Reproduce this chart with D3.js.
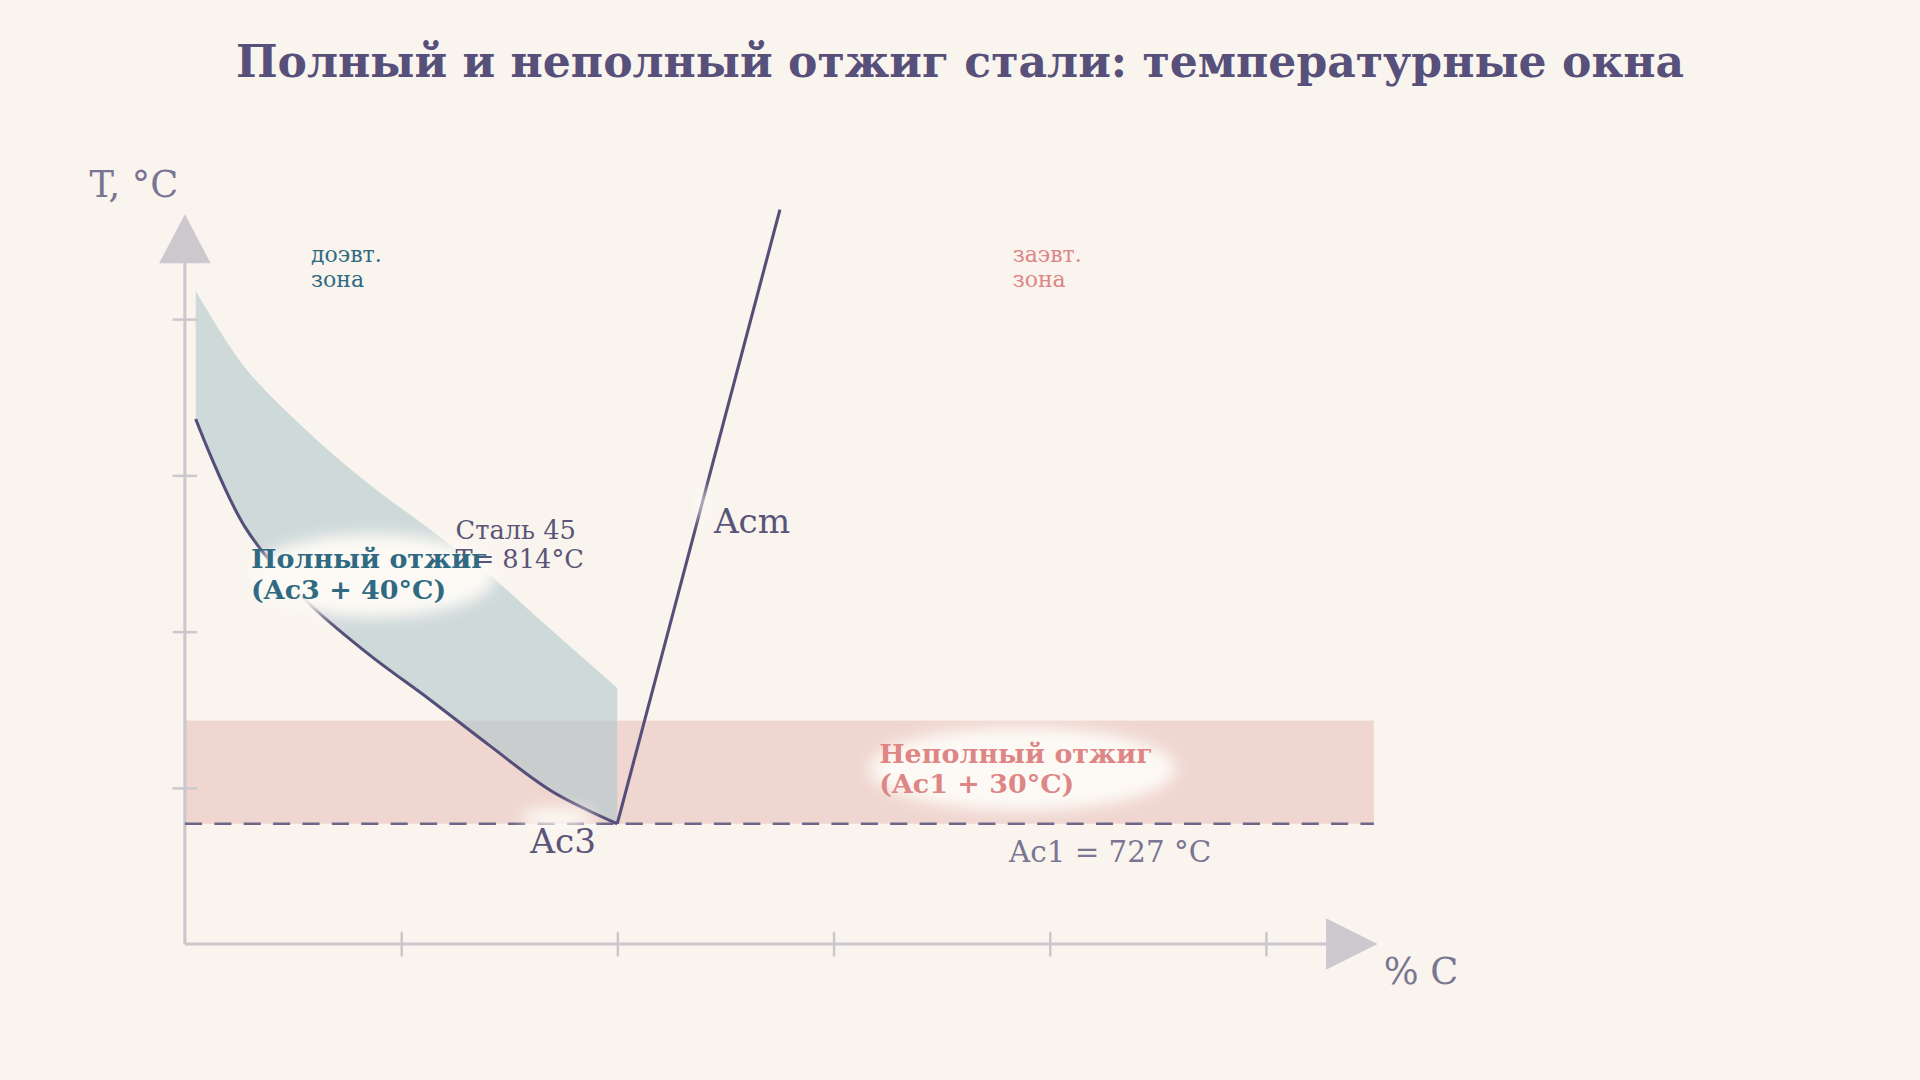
<!DOCTYPE html>
<html><head><meta charset="utf-8">
<script src="https://cdn.jsdelivr.net/npm/d3@7"></script>
<style>html,body{margin:0;background:#f9f4ee;}svg{display:block;font-family:"DejaVu Serif",serif;}</style>
</head><body><div id="chart"></div>
<script>
// carbon %, temperature °C
const ac3Curve = [[0.02,986],[0.111,917],[0.224,870],[0.338,836],[0.451,807],[0.564,777],[0.678,748],[0.8,727]];
const fullUpper = [[0.02,1068],[0.111,1019],[0.224,979],[0.338,945],[0.451,916],[0.564,886],[0.678,851],[0.8,814]];
const acmLine = [[0.8,727],[1.101,1120]];
const ac1 = 727, partialTop = 793;
const xTicks = [0, 0.4, 0.8, 1.2, 1.6, 2.0];
const yTicks = [750, 850, 950, 1050];

const W = 1568, H = 882;
const svg = d3.select('#chart').append('svg')
  .attr('width', 1920).attr('height', 1080)
  .attr('viewBox', `0 0 ${W} ${H}`);
svg.append('rect').attr('width', W).attr('height', H).attr('fill', '#f9f4ee');

const defs = svg.append('defs');
defs.append('filter').attr('id', 'blur').attr('x', '-30%').attr('y', '-60%').attr('width', '160%').attr('height', '220%')
  .append('feGaussianBlur').attr('stdDeviation', 6);

const x = d3.scaleLinear().domain([0, 2.2]).range([151, 1122]);
const y = d3.scaleLinear().domain([650, 1117]).range([771, 175]);

svg.append('text').attr('x', 784).attr('y', 63).attr('text-anchor', 'middle')
  .attr('font-size', 36).attr('font-weight', 'bold').attr('fill', '#56507a')
  .text('Полный и неполный отжиг стали: температурные окна');

// partial anneal band
svg.append('rect').attr('x', x(0)).attr('width', x(2.2) - x(0))
  .attr('y', y(partialTop)).attr('height', y(ac1) - y(partialTop))
  .attr('fill', '#f0d6d0');

// full anneal band
const bandData = ac3Curve.map((p, i) => ({c: p[0], lo: p[1], hi: fullUpper[i][1]}));
const area = d3.area().x(d => x(d.c)).y0(d => y(d.lo)).y1(d => y(d.hi)).curve(d3.curveCatmullRom);
svg.append('path').datum(bandData).attr('d', area).attr('fill', '#b3c8cd').attr('opacity', 0.62);

// axes
const axisCol = '#cbc7ca';
const xAxis = d3.axisBottom(x).tickValues(xTicks.slice(1)).tickSize(20).tickFormat('');
const xg = svg.append('g').attr('transform', `translate(0,${y(650) - 10})`).call(xAxis);
xg.select('.domain').remove();
xg.selectAll('line').attr('stroke', axisCol).attr('stroke-width', 2);
const yAxis = d3.axisLeft(y).tickValues(yTicks).tickSize(20).tickFormat('');
const yg = svg.append('g').attr('transform', `translate(${x(0) + 10},0)`).call(yAxis);
yg.select('.domain').remove();
yg.selectAll('line').attr('stroke', axisCol).attr('stroke-width', 2);
svg.append('line').attr('x1', x(0)).attr('x2', 1090).attr('y1', y(650)).attr('y2', y(650)).attr('stroke', axisCol).attr('stroke-width', 2.5);
svg.append('line').attr('x1', x(0)).attr('x2', x(0)).attr('y1', y(650)).attr('y2', 210).attr('stroke', axisCol).attr('stroke-width', 2.5);
svg.append('path').attr('d', `M1083,750 L1125,771 L1083,792 Z`).attr('fill', '#cdc8cd');
svg.append('path').attr('d', `M130,215 L151,175 L172,215 Z`).attr('fill', '#cdc8cd');

// Ac1 dashed
svg.append('line').attr('x1', x(0)).attr('x2', x(2.2)).attr('y1', y(ac1)).attr('y2', y(ac1))
  .attr('stroke', '#6d6787').attr('stroke-width', 2).attr('stroke-dasharray', '14,10');

svg.append('path').datum(ac3Curve)
  .attr('d', d3.line().x(d => x(d[0])).y(d => y(d[1])).curve(d3.curveCatmullRom))
  .attr('fill', 'none').attr('stroke', '#554e78').attr('stroke-width', 2.5);
svg.append('path').datum(acmLine)
  .attr('d', d3.line().x(d => x(d[0])).y(d => y(d[1])))
  .attr('fill', 'none').attr('stroke', '#554e78').attr('stroke-width', 2.5);

// halos
function halo(cx, cy, rx, ry) {
  svg.append('ellipse').attr('cx', cx).attr('cy', cy).attr('rx', rx).attr('ry', ry)
    .attr('fill', '#fdfaf5').attr('filter', 'url(#blur)');
}
halo(305, 470, 100, 34);
halo(835, 628, 125, 34);
halo(455, 668, 30, 8);
halo(574, 412, 5, 14);

function label(tx, ty, lines, opts) {
  const t = svg.append('text').attr('x', tx).attr('y', ty).attr('font-size', opts.size)
    .attr('fill', opts.color).attr('font-weight', opts.bold ? 'bold' : 'normal');
  lines.forEach((s, i) => t.append('tspan').attr('x', tx).attr('dy', i ? opts.lh : 0).text(s));
}
label(254, 214, ['доэвт.', 'зона'], {size: 18, color: '#2f6a82', lh: 20});
label(827, 214, ['заэвт.', 'зона'], {size: 18, color: '#de8585', lh: 20});
label(372, 440, ['Сталь 45', 'T= 814°C'], {size: 21, color: '#5a5478', lh: 24});
label(205, 464, ['Полный отжиг', '(Ac3 + 40°C)'], {size: 22, color: '#2f6a82', bold: true, lh: 25});
label(718, 623, ['Неполный отжиг', '(Ac1 + 30°C)'], {size: 22, color: '#de8585', bold: true, lh: 25});
label(583, 435, ['Acm'], {size: 28, color: '#5a5478'});
label(433, 697, ['Ac3'], {size: 28, color: '#5a5478'});
label(824, 704, ['Ac1 = 727 °C'], {size: 24, color: '#7a7592'});
label(73, 161, ['T, °C'], {size: 30, color: '#7a7592'});
label(1130, 804, ['% C'], {size: 30, color: '#7a7592'});
</script></body></html>
